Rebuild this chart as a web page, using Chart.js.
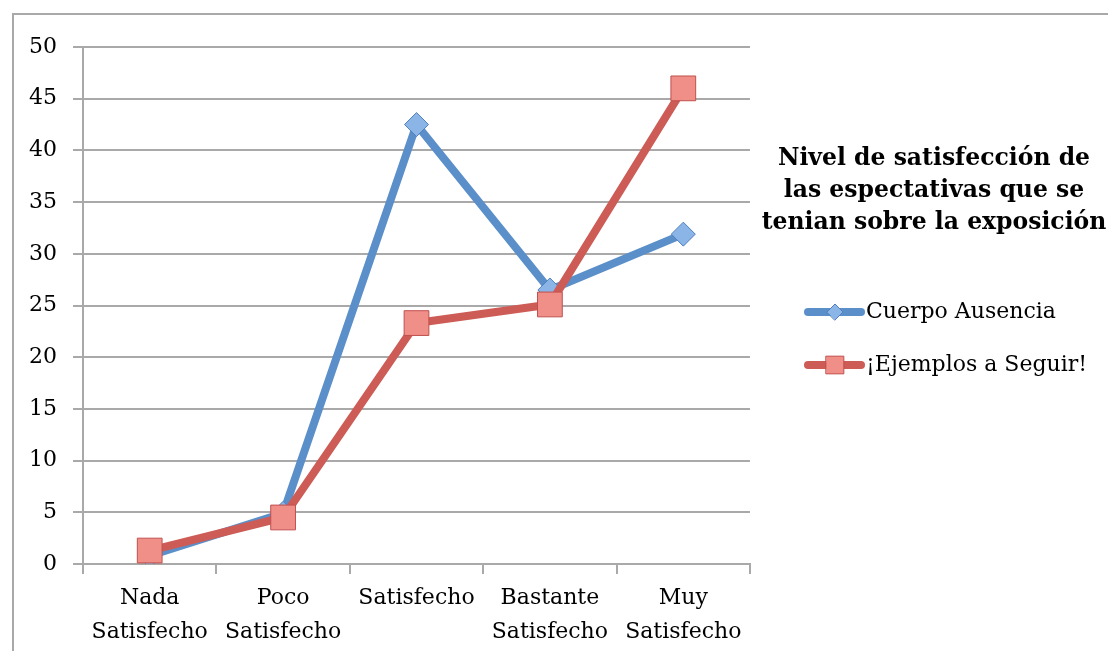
<!DOCTYPE html>
<html>
<head>
<meta charset="utf-8">
<script src="https://cdn.jsdelivr.net/npm/chart.js@4"></script>
<style>
    body { margin: 0; background: #fff; }
    #marco { position: absolute; left: 12px; top: 13px; width: 1200px; height: 700px; border: 2px solid #a9a9a9; }
    #grafico { position: absolute; left: 0; top: 0; }
</style>
</head>
<body>
<div id="marco"></div>
<canvas id="grafico" width="1108" height="651"></canvas>
<script>
// Datos
const categorias = [
    ['Nada', 'Satisfecho'],
    ['Poco', 'Satisfecho'],
    'Satisfecho',
    ['Bastante', 'Satisfecho'],
    ['Muy', 'Satisfecho']
];
const cuerpoAusencia = [0.8, 4.9, 42.5, 26.5, 31.9];
const ejemplosASeguir = [1.3, 4.5, 23.3, 25.1, 46.0];
const nombresSeries = ['Cuerpo Ausencia', '¡Ejemplos a Seguir!'];
const tituloLineas = ['Nivel de satisfección de', 'las espectativas que se', 'tenian sobre la exposición'];

const fuente = '"DejaVu Serif", serif';
const gris = '#a9a9a9';

// Título y leyenda a la derecha del gráfico
const leyendaDerecha = {
    id: 'leyendaDerecha',
    afterDraw(chart) {
        const ctx = chart.ctx;
        ctx.save();
        ctx.fillStyle = '#000';
        ctx.font = 'bold 23.5px ' + fuente;
        ctx.textAlign = 'center';
        ctx.textBaseline = 'middle';
        tituloLineas.forEach((t, i) => ctx.fillText(t, 934, 159 + i * 32));

        // Entradas de la leyenda
        const datasets = chart.data.datasets;
        datasets.forEach((ds, i) => {
            const y = 312 + i * 53;
            ctx.strokeStyle = ds.borderColor;
            ctx.lineWidth = 8;
            ctx.lineCap = 'round';
            ctx.beginPath();
            ctx.moveTo(808, y);
            ctx.lineTo(861, y);
            ctx.stroke();
            ctx.fillStyle = ds.pointBackgroundColor;
            ctx.strokeStyle = ds.pointBorderColor;
            ctx.lineWidth = 1;
            Chart.helpers.drawPoint(ctx, {
                pointStyle: ds.pointStyle,
                radius: ds.pointStyle === 'rect' ? 12.5 : 8,
                rotation: 0,
                borderWidth: 1
            }, 835, y);
            ctx.fillStyle = '#000';
            ctx.font = '22px ' + fuente;
            ctx.textAlign = 'left';
            ctx.fillText(ds.label, 866, y);
        });
        ctx.restore();
    }
};

const ctx = document.getElementById('grafico').getContext('2d');
const miGrafico = new Chart(ctx, {
    type: 'line',
    data: {
        labels: categorias,
        datasets: [
            {
                label: nombresSeries[0],
                data: cuerpoAusencia,
                borderColor: '#5b8fc9',
                borderWidth: 8,
                pointStyle: 'rectRot',
                pointRadius: 12,
                pointBackgroundColor: '#8bb5e6',
                pointBorderColor: '#4f7fbf',
                pointBorderWidth: 1,
                order: 1
            },
            {
                label: nombresSeries[1],
                data: ejemplosASeguir,
                borderColor: '#cd5c56',
                borderWidth: 8,
                pointStyle: 'rect',
                pointRadius: 17.5,
                pointBackgroundColor: '#f08e88',
                pointBorderColor: '#c0504d',
                pointBorderWidth: 1,
                order: 0
            }
        ]
    },
    options: {
        responsive: false,
        animation: false,
        layout: { padding: { top: 47, right: 358, left: 0, bottom: 0 } },
        plugins: {
            legend: { display: false },
            tooltip: { enabled: false }
        },
        scales: {
            x: {
                offset: true,
                grid: {
                    offset: true,
                    drawOnChartArea: false,
                    drawTicks: true,
                    tickLength: 10,
                    color: gris,
                    lineWidth: 2
                },
                border: { color: gris, width: 2 },
                ticks: {
                    color: '#000',
                    font: { family: fuente, size: 22, lineHeight: 1.55 },
                    padding: 7,
                    maxRotation: 0,
                    autoSkip: false
                },
                afterFit(scale) { scale.height = 87; }
            },
            y: {
                min: 0,
                max: 50,
                ticks: {
                    stepSize: 5,
                    color: '#000',
                    font: { family: fuente, size: 22 },
                    padding: 16
                },
                grid: {
                    color: gris,
                    lineWidth: 2,
                    tickLength: 10
                },
                border: { color: gris, width: 2 },
                afterFit(scale) { scale.width = 83; }
            }
        }
    },
    plugins: [leyendaDerecha]
});
</script>
</body>
</html>
